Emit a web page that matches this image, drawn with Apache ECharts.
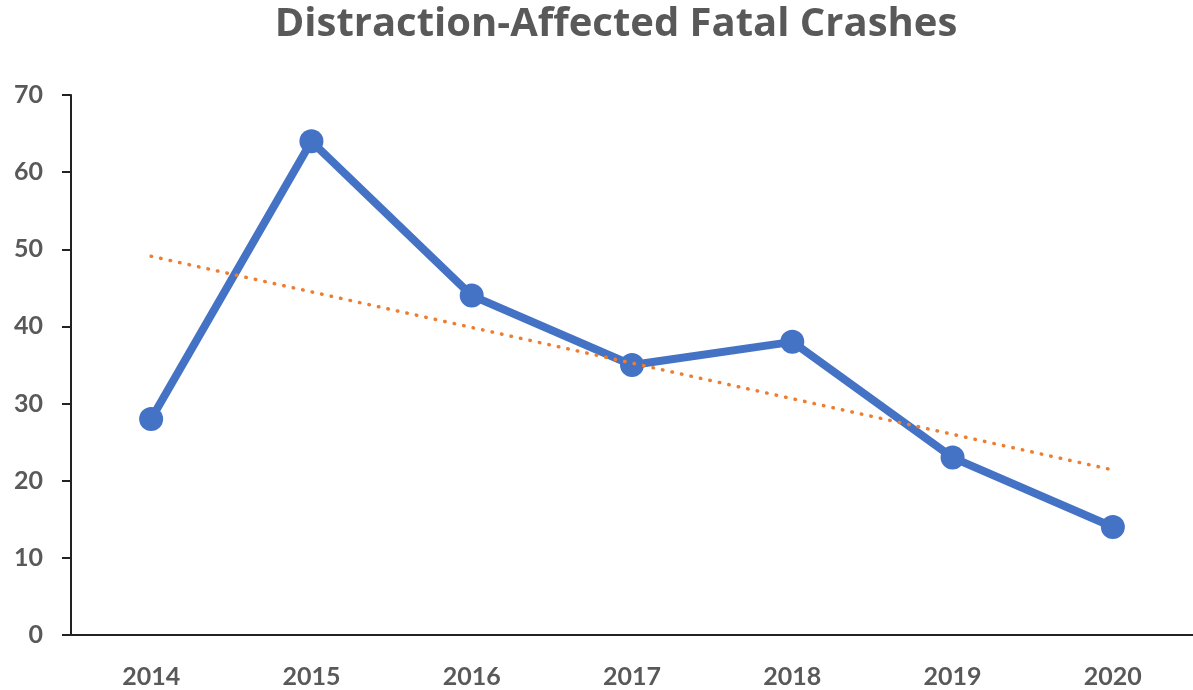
<!DOCTYPE html>
<html>
<head>
<meta charset="utf-8">
<script src="https://cdn.jsdelivr.net/npm/echarts@6/dist/echarts.min.js"></script>
<style>
  html, body { margin: 0; padding: 0; background: #fff; }
  #chart { width: 1193px; height: 690px; }
</style>
</head>
<body>
<div id="chart"></div>
<script>
const years = ['2014', '2015', '2016', '2017', '2018', '2019', '2020']
const crashes = [28, 64, 44, 35, 38, 23, 14]
// trend line end points
const trend = [49.1, null, null, null, null, null, 21.4]
const yTicks = { min: 0, max: 70, interval: 10 }

const chart = echarts.init(document.getElementById('chart'))
const labelFont = {
  color: '#595959',
  fontFamily: 'Lato',
  fontWeight: 'bold',
  fontSize: 25
}
const option = {
  animation: false,
  title: {
    text: 'Distraction-Affected Fatal Crashes',
    left: 611,
    top: 0,
    textAlign: 'center',
    textStyle: {
      color: '#595959',
      fontFamily: 'Open Sans',
      fontWeight: 'bold',
      fontSize: 40
    }
  },
  grid: { left: 71, right: -4, top: 95, bottom: 55 },
  xAxis: {
    type: 'category',
    data: years,
    boundaryGap: true,
    axisLine: { lineStyle: { color: '#222', width: 2 } },
    axisTick: { alignWithLabel: true, length: 8, lineStyle: { color: '#222', width: 2 } },
    axisLabel: Object.assign({ margin: 29 }, labelFont),
    splitLine: { show: false }
  },
  yAxis: {
    type: 'value',
    min: yTicks.min,
    max: yTicks.max,
    interval: yTicks.interval,
    axisLine: { show: true, lineStyle: { color: '#222', width: 2 } },
    axisTick: { show: true, length: 9, lineStyle: { color: '#222', width: 2 } },
    axisLabel: Object.assign({ margin: 28 }, labelFont),
    splitLine: { show: false }
  },
  series: [
    {
      name: 'Crashes',
      type: 'line',
      data: crashes,
      symbol: 'circle',
      symbolSize: 24,
      itemStyle: { color: '#4472C4' },
      lineStyle: { color: '#4472C4', width: 8 },
      z: 3
    },
    {
      name: 'Trend',
      type: 'line',
      data: trend,
      connectNulls: true,
      symbol: 'none',
      lineStyle: { color: '#ED7D31', width: 3.5, type: [0.5, 9.2], cap: 'round' },
      z: 4
    }
  ]
}
chart.setOption(option)
</script>
</body>
</html>
